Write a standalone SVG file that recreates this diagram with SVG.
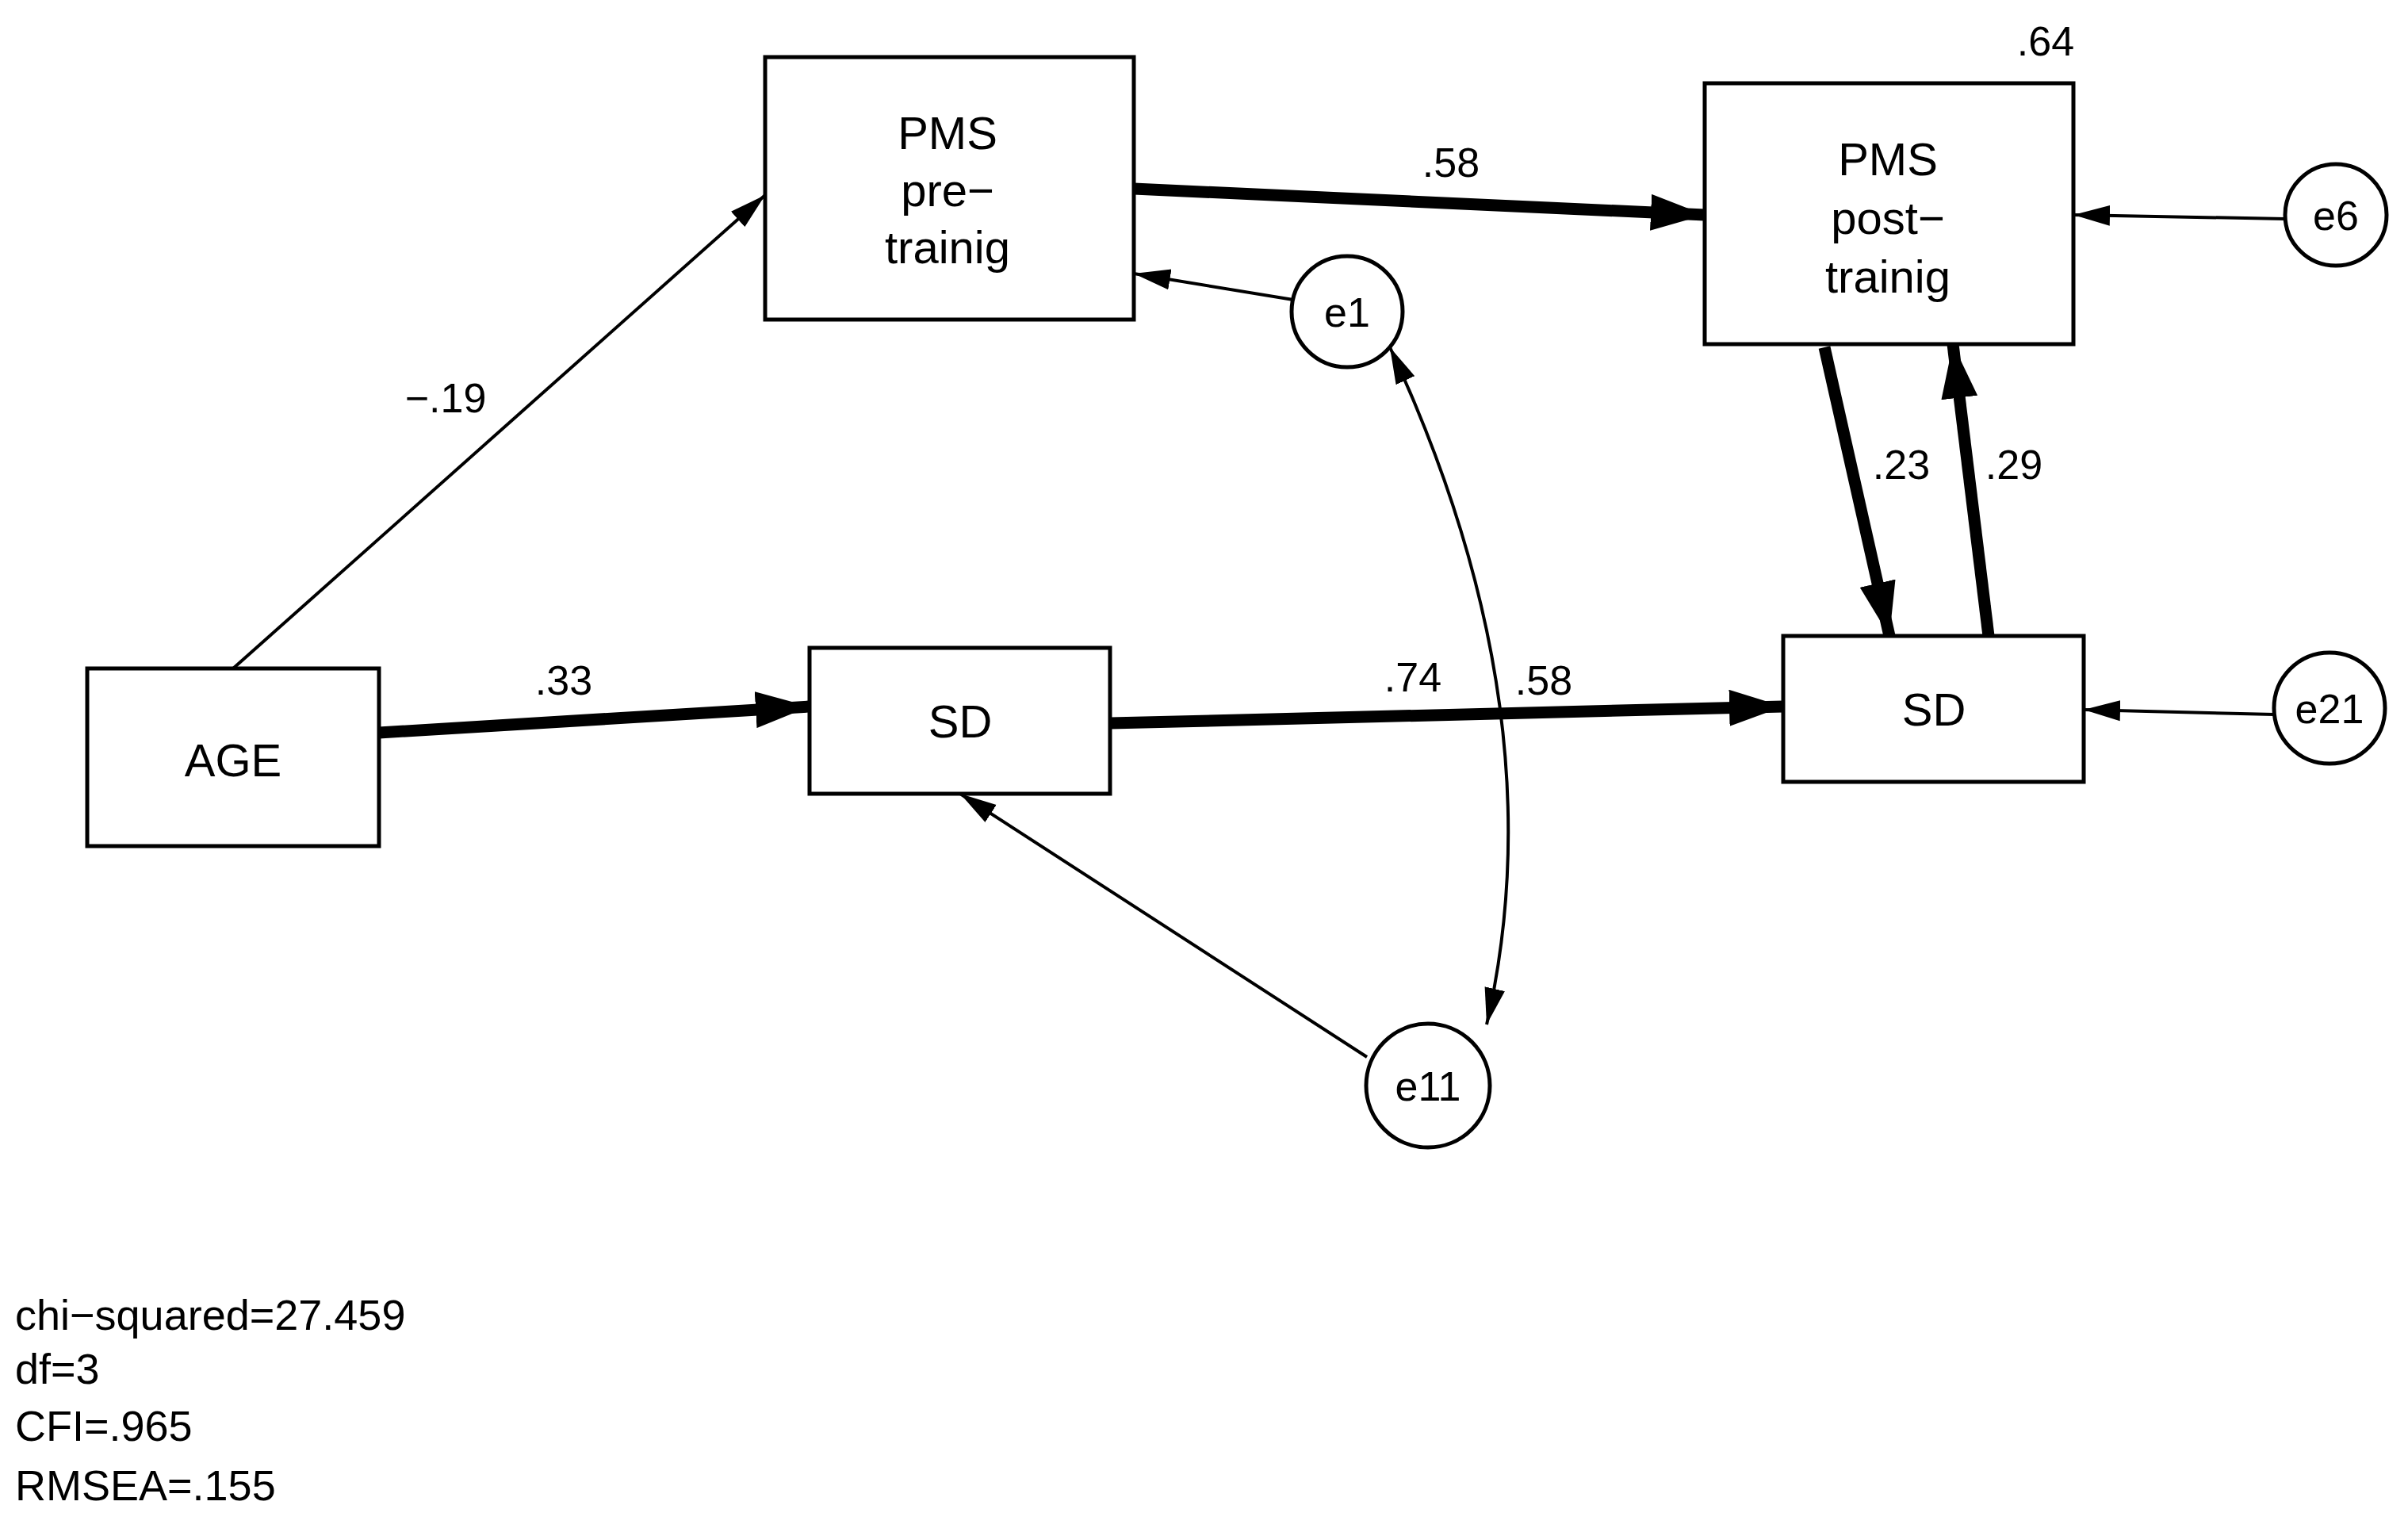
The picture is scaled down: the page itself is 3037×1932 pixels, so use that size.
<svg xmlns="http://www.w3.org/2000/svg" width="3037" height="1932" viewBox="0 0 3037 1932">
<style>
.b{fill:#fff;stroke:#000;stroke-width:5}
.t{font-family:"Liberation Sans",Arial,sans-serif;font-size:58px;text-anchor:middle;fill:#000}
.l{font-family:"Liberation Sans",Arial,sans-serif;font-size:52px;text-anchor:middle;fill:#000}
.s{font-family:"Liberation Sans",Arial,sans-serif;font-size:54px;fill:#000}
.thin{stroke:#000;stroke-width:4;fill:none;marker-end:url(#ah)}
.thick{stroke:#000;stroke-width:15;fill:none;marker-end:url(#ahb)}
</style>
<defs>
<marker id="ah" markerUnits="userSpaceOnUse" markerWidth="50" markerHeight="30" refX="46" refY="15" orient="auto"><path d="M0,2 L46,15 L0,28 Z"/></marker>
<marker id="ahs" markerUnits="userSpaceOnUse" markerWidth="50" markerHeight="30" refX="46" refY="15" orient="auto-start-reverse"><path d="M0,2 L46,15 L0,28 Z"/></marker>
<marker id="ahb" markerUnits="userSpaceOnUse" markerWidth="70" markerHeight="46" refX="68" refY="23" orient="auto"><path d="M0,0 L68,23 L0,46 Z"/></marker>
</defs>
<g id="connectors">
<line class="thin" x1="294" y1="843" x2="965" y2="246"/>
<line class="thick" x1="1430" y1="238" x2="2150" y2="271"/>
<line class="thin" x1="1631" y1="378" x2="1430" y2="345"/>
<line class="thin" x1="2882" y1="276" x2="2615" y2="271"/>
<line class="thin" x1="2868" y1="901" x2="2628" y2="895"/>
<line class="thick" x1="478" y1="924" x2="1021" y2="891"/>
<line class="thick" x1="1400" y1="912" x2="2249" y2="891"/>
<line class="thick" x1="2301" y1="438" x2="2383" y2="802"/>
<line class="thick" x1="2508" y1="802" x2="2463" y2="434"/>
<line class="thin" x1="1724" y1="1333" x2="1211" y2="1001"/>
<path d="M1753,438 Q1966,895 1875,1292" style="stroke:#000;stroke-width:4;fill:none;marker-start:url(#ahs);marker-end:url(#ah)"/>
<text class="l" x="562" y="520">−.19</text>
<text class="l" x="711" y="876">.33</text>
<text class="l" x="1830" y="223">.58</text>
<text class="l" x="2580" y="70">.64</text>
<text class="l" x="2398" y="604">.23</text>
<text class="l" x="2540" y="604">.29</text>
<text class="l" x="1782" y="872">.74</text>
<text class="l" x="1947" y="876">.58</text>
</g>
<g id="pms_pre"><rect class="b" x="965" y="72" width="465" height="331"/><text class="t" x="1195" y="188">PMS</text><text class="t" x="1195" y="260">pre−</text><text class="t" x="1195" y="332">trainig</text></g>
<g id="pms_post"><rect class="b" x="2150" y="105" width="465" height="329"/><text class="t" x="2381" y="221">PMS</text><text class="t" x="2381" y="295">post−</text><text class="t" x="2381" y="369">trainig</text></g>
<g id="age"><rect class="b" x="110" y="843" width="368" height="224"/><text class="t" x="294" y="979">AGE</text></g>
<g id="sd1"><rect class="b" x="1021" y="817" width="379" height="184"/><text class="t" x="1211" y="930">SD</text></g>
<g id="sd2"><rect class="b" x="2249" y="802" width="379" height="184"/><text class="t" x="2439" y="915">SD</text></g>
<g id="e1"><circle class="b" cx="1699" cy="393" r="70"/><text class="l" x="1699" y="412">e1</text></g>
<g id="e6"><circle class="b" cx="2946" cy="271" r="64"/><text class="l" x="2946" y="290">e6</text></g>
<g id="e21"><circle class="b" cx="2938" cy="893" r="70"/><text class="l" x="2938" y="912">e21</text></g>
<g id="e11"><circle class="b" cx="1801" cy="1369" r="78"/><text class="l" x="1801" y="1388">e11</text></g>
<g id="stats">
<text class="s" x="19" y="1677">chi−squared=27.459</text>
<text class="s" x="19" y="1745">df=3</text>
<text class="s" x="19" y="1817">CFI=.965</text>
<text class="s" x="19" y="1892">RMSEA=.155</text>
</g>
</svg>
